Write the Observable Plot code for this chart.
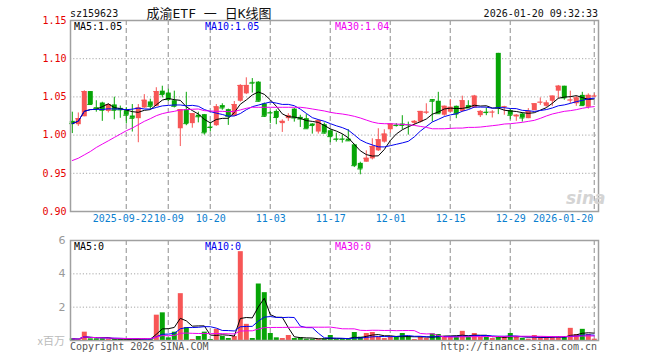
<!DOCTYPE html>
<html>
<head>
<meta charset="utf-8">
<script src="https://cdn.jsdelivr.net/npm/d3@7"></script>
<script src="https://cdn.jsdelivr.net/npm/@observablehq/plot@0.6"></script>
<style>
  body { margin: 0; background: #fff; }
  #wrap { position: relative; width: 660px; height: 360px; overflow: hidden; background: #fff; }
  #price, #vol, #overlay { position: absolute; left: 0; }
  #price { top: 0; }
  #vol { top: 232px; }
  #overlay { top: 0; pointer-events: none; }
</style>
</head>
<body>
<div id="wrap">
  <div id="price"></div>
  <div id="vol"></div>
  <svg id="overlay" width="660" height="360" xmlns="http://www.w3.org/2000/svg"></svg>
</div>
<script>
// ---------- data ----------
const dates = [
"2025-09-09","2025-09-10","2025-09-11","2025-09-12","2025-09-15","2025-09-16","2025-09-17","2025-09-18","2025-09-19","2025-09-22","2025-09-23","2025-09-24","2025-09-25","2025-09-26","2025-09-29","2025-09-30",
"2025-10-09","2025-10-10","2025-10-13","2025-10-14","2025-10-15","2025-10-16","2025-10-17","2025-10-20","2025-10-21","2025-10-22","2025-10-23","2025-10-24","2025-10-27","2025-10-28","2025-10-29","2025-10-30","2025-10-31",
"2025-11-03","2025-11-04","2025-11-05","2025-11-06","2025-11-07","2025-11-10","2025-11-11","2025-11-12","2025-11-13","2025-11-14","2025-11-17","2025-11-18","2025-11-19","2025-11-20","2025-11-21","2025-11-24","2025-11-25","2025-11-26","2025-11-27","2025-11-28",
"2025-12-01","2025-12-02","2025-12-03","2025-12-04","2025-12-05","2025-12-08","2025-12-09","2025-12-10","2025-12-11","2025-12-12","2025-12-15","2025-12-16","2025-12-17","2025-12-18","2025-12-19","2025-12-22","2025-12-23","2025-12-24","2025-12-25","2025-12-26","2025-12-29","2025-12-30","2025-12-31",
"2026-01-05","2026-01-06","2026-01-07","2026-01-08","2026-01-09","2026-01-12","2026-01-13","2026-01-14","2026-01-15","2026-01-16","2026-01-19","2026-01-20"];

const open = [
1.018,1.0136,1.024,1.057,1.036,1.042,1.031,1.0395,1.035,1.032,1.025,1.0215,1.0355,1.0434,1.0377,1.0575,1.055,1.045,1.0083,1.0333,1.015,1.026,
1.0268,1.0105,1.0123,1.0386,1.0333,1.0246,1.0443,1.054,1.069,1.0693,1.0408,1.0295,1.031,1.015,1.0215,1.034,1.0232,1.0215,1.0145,1.004,1.0136,1.0057,
0.995,0.995,0.9947,0.9873,0.963,0.9645,0.9689,0.9794,0.9908,1.007,1.013,1.0145,1.0136,1.0154,1.017,1.029,1.0465,1.0443,1.026,1.030,1.0377,1.031,
1.0386,1.0355,1.0254,1.030,1.0295,1.107,1.036,1.032,1.0237,1.0276,1.0215,1.032,1.0425,1.0377,1.0443,1.0575,1.064,1.0452,1.041,1.052,1.0364,1.0505];

const high = [
1.030,1.029,1.058,1.057,1.045,1.043,1.041,1.0496,1.038,1.036,1.040,1.040,1.053,1.047,1.062,1.064,1.060,1.0575,1.0333,1.056,1.028,1.030,
1.027,1.017,1.040,1.041,1.034,1.044,1.066,1.075,1.074,1.070,1.042,1.031,1.033,1.020,1.028,1.035,1.026,1.0268,1.015,1.020,1.0158,1.007,
1.0026,1.0004,1.007,0.988,0.9645,0.9794,0.9952,1.0083,1.007,1.0145,1.015,1.0254,1.017,1.019,1.031,1.041,1.0465,1.056,1.038,1.0465,1.038,1.051,
1.045,1.052,1.032,1.0355,1.032,1.107,1.0377,1.0333,1.0268,1.029,1.0347,1.041,1.0487,1.045,1.051,1.065,1.064,1.0575,1.051,1.056,1.054,1.054];

const low = [
1.002,1.0114,1.024,1.039,1.030,1.018,1.029,1.020,1.022,1.0145,1.004,0.990,1.035,1.0333,1.037,1.0487,1.044,1.0355,0.985,1.0123,1.009,1.016,
1.000,1.004,1.0114,1.0325,1.0127,1.0246,1.043,1.053,1.055,1.043,1.023,1.015,1.0136,1.0035,1.018,1.017,1.010,1.008,1.0013,1.0013,1.0013,0.990,
0.9908,0.9895,0.9917,0.9575,0.948,0.9645,0.9675,0.9785,0.9895,1.0026,1.0105,1.007,1.000,1.0127,1.0158,1.027,1.017,1.028,1.0246,1.030,1.0215,1.030,
1.035,1.035,1.023,1.0254,1.0224,1.0268,1.026,1.020,1.018,1.017,1.0215,1.032,1.039,1.0364,1.0377,1.0474,1.0456,1.041,1.0377,1.0377,1.034,1.049];

const close = [
1.015,1.0215,1.057,1.040,1.035,1.0325,1.040,1.0325,1.033,1.026,1.022,1.0355,1.0456,1.0377,1.057,1.053,1.0465,1.0377,1.0333,1.015,1.028,1.024,
1.003,1.010,1.037,1.0355,1.0246,1.040,1.065,1.065,1.068,1.0443,1.0246,1.029,1.023,1.018,1.0254,1.0224,1.021,1.0083,1.0125,1.019,1.0026,0.998,
0.9945,0.9945,0.9925,0.960,0.9557,0.9697,0.985,0.9939,1.0013,1.0145,1.0125,1.0127,1.0134,1.018,1.031,1.030,1.0443,1.028,1.0377,1.0364,1.0276,1.045,
1.0355,1.051,1.031,1.0295,1.030,1.0355,1.037,1.026,1.026,1.0224,1.031,1.041,1.043,1.042,1.051,1.064,1.0487,1.0458,1.0487,1.0386,1.052,1.051];

// 30-day moving average of price as shown (depends on days before the window)
const ma30 = [
0.9667,0.9697,0.9741,0.9785,0.9838,0.9882,0.9925,0.9969,1.0013,1.0057,1.0092,1.0136,1.0180,1.0215,1.0254,1.0281,1.0298,1.0311,1.0329,1.0333,1.0338,1.0342,
1.0320,1.0316,1.0311,1.0311,1.0307,1.0311,1.0329,1.0351,1.0364,1.0364,1.0364,1.0364,1.0364,1.0364,1.0364,1.0364,1.0364,1.0355,1.0342,1.0329,1.0316,1.0298,
1.0285,1.0276,1.0263,1.0246,1.0224,1.0197,1.0171,1.0154,1.0149,1.0149,1.0145,1.0140,1.0136,1.0127,1.0114,1.0101,1.0083,1.0083,1.0083,1.0088,1.0092,1.0092,
1.0101,1.0101,1.0105,1.0114,1.0123,1.0132,1.0145,1.0149,1.0158,1.0167,1.0180,1.0193,1.0219,1.0250,1.0276,1.0294,1.0311,1.0320,1.0333,1.0351,1.0364,1.0373];

// volume, millions
const volume = [
0.10,0.06,0.50,0.10,0.10,0.10,0.08,0.06,0.06,0.04,0.04,0.10,0.12,0.08,1.52,1.66,0.16,0.50,2.81,0.77,0.06,0.24,
0.50,0.06,0.67,0.24,0.12,0.24,5.33,0.97,0.12,3.39,2.87,0.42,0.16,0.12,0.30,0.12,0.16,0.08,0.08,0.08,0.10,0.30,
0.06,0.06,0.06,0.48,0.20,0.42,0.48,0.20,0.12,0.20,0.20,0.42,0.24,0.06,0.20,0.12,0.40,0.36,0.24,0.24,0.20,0.55,
0.20,0.42,0.20,0.20,0.12,0.20,0.20,0.42,0.20,0.12,0.08,0.30,0.20,0.20,0.20,0.20,0.20,0.73,0.36,0.67,0.36,0.08];

const tickDates  = ["2025-09-22","2025-10-09","2025-10-20","2025-11-03","2025-11-17","2025-12-01","2025-12-15","2025-12-29","2026-01-20"];
const tickLabels = ["2025-09-22","10-09","10-20","11-03","11-17","12-01","12-15","12-29","2026-01-20"];
const priceTicks = [0.90, 0.95, 1.00, 1.05, 1.10, 1.15];
const priceGrid  = [0.95, 1.00, 1.05, 1.10];
const volTicks   = [2, 4, 6];
const volGrid    = [2, 4];

const code = "sz159623";
const title = "成渝ETF 一 日K线图";
const stamp = "2026-01-20 09:32:33";
const priceLegend = ["MA5:1.05", "MA10:1.05", "MA30:1.04"];
const volLegend = ["MA5:0", "MA10:0", "MA30:0"];
const volUnit = "x百万";
const footLeft = "Copyright 2026 SINA.COM";
const footRight = "http://finance.sina.com.cn";

// ---------- build ----------
const RED = "#f75656", GREEN = "#07a507";
const MA_COLORS = ["#000000", "#0000f0", "#f000f0"];
const data = dates.map((date, i) => ({
  i, date, open: open[i], high: high[i], low: low[i], close: close[i], ma30: ma30[i], vol: volume[i]
}));
const up = d => d.close >= d.open;
const down = d => d.close < d.open;
const ticks = tickDates.map((d, k) => ({ i: dates.indexOf(d), label: tickLabels[k] }));
const xDomain = [-0.3, dates.length - 0.3];
const MONO = "'DejaVu Sans Mono', 'Liberation Mono', monospace";
const LABEL_BLUE = "#0b80cf";

const priceChart = Plot.plot({
  width: 660, height: 232,
  marginLeft: 70, marginRight: 62, marginTop: 20, marginBottom: 21,
  x: { domain: xDomain, axis: null },
  y: { domain: [0.90, 1.15], axis: null },
  style: { fontFamily: MONO, fontSize: "10px", background: "#fff", overflow: "visible" },
  marks: [
    Plot.ruleY(priceGrid, { stroke: "#a8a8a8", strokeDasharray: "1.2,2" }),
    Plot.ruleX(ticks, { x: "i", stroke: "#a8a8a8", strokeWidth: 1.3, strokeDasharray: "5,3" }),
    Plot.axisY({ ticks: priceTicks, tickFormat: d => d.toFixed(2), tickSize: 0, tickPadding: 4, color: "#e60000", fontSize: 10, label: null }),
    Plot.text(ticks.slice(0, 1), { x: "i", text: "label", frameAnchor: "bottom", dy: 10, dx: -3.5, fill: LABEL_BLUE, fontSize: 10 }),
    Plot.text(ticks.slice(1, -1), { x: "i", text: "label", frameAnchor: "bottom", dy: 10, dx: 0.5, fill: LABEL_BLUE, fontSize: 10 }),
    Plot.text(ticks.slice(-1), { x: "i", text: "label", frameAnchor: "bottom", dy: 10, dx: -1, textAnchor: "end", fill: LABEL_BLUE, fontSize: 10 }),
    // wicks
    Plot.ruleX(data, { filter: up, x: "i", y1: "low", y2: "high", stroke: RED, strokeWidth: 1 }),
    Plot.ruleX(data, { filter: down, x: "i", y1: "low", y2: "high", stroke: GREEN, strokeWidth: 1 }),
    // bodies
    Plot.ruleX(data, { filter: up, x: "i", y1: "open", y2: "close", stroke: RED, strokeWidth: 5 }),
    Plot.ruleX(data, { filter: down, x: "i", y1: "open", y2: "close", stroke: GREEN, strokeWidth: 5 }),
    Plot.ruleY(data, { filter: up, y: "close", x1: d => d.i - 0.42, x2: d => d.i + 0.42, stroke: RED }),
    Plot.ruleY(data, { filter: down, y: "close", x1: d => d.i - 0.42, x2: d => d.i + 0.42, stroke: GREEN }),
    // moving averages
    Plot.lineY(data, Plot.windowY({ k: 5, anchor: "end" }, { x: "i", y: "close", stroke: MA_COLORS[0], strokeWidth: 1 })),
    Plot.lineY(data, Plot.windowY({ k: 10, anchor: "end" }, { x: "i", y: "close", stroke: MA_COLORS[1], strokeWidth: 1 })),
    Plot.lineY(data, { x: "i", y: "ma30", stroke: MA_COLORS[2], strokeWidth: 1 }),
    Plot.frame({ stroke: "#a0a0a0", strokeWidth: 1.5 })
  ]
});
document.getElementById("price").appendChild(priceChart);

const volChart = Plot.plot({
  width: 660, height: 128,
  marginLeft: 70, marginRight: 62, marginTop: 8, marginBottom: 20,
  x: { domain: xDomain, axis: null },
  y: { domain: [0, 6], axis: null, label: null },
  style: { fontFamily: "'DejaVu Sans', sans-serif", fontSize: "11px", background: "#fff", overflow: "visible" },
  marks: [
    Plot.ruleY(volGrid, { stroke: "#a8a8a8", strokeDasharray: "1.2,2" }),
    Plot.ruleX(ticks, { x: "i", stroke: "#a8a8a8", strokeWidth: 1.3, strokeDasharray: "5,3" }),
    Plot.axisY({ ticks: volTicks, tickFormat: d => String(d), tickSize: 0, tickPadding: 5, color: "#999", fontSize: 11, label: null }),
    Plot.ruleX(data, { filter: up, x: "i", y1: 0, y2: "vol", stroke: RED, strokeWidth: 5 }),
    Plot.ruleX(data, { filter: down, x: "i", y1: 0, y2: "vol", stroke: GREEN, strokeWidth: 5 }),
    Plot.lineY(data, Plot.windowY({ k: 5, anchor: "end" }, { x: "i", y: "vol", stroke: MA_COLORS[0], strokeWidth: 1 })),
    Plot.lineY(data, Plot.windowY({ k: 10, anchor: "end" }, { x: "i", y: "vol", stroke: MA_COLORS[1], strokeWidth: 1 })),
    Plot.lineY(data, Plot.windowY({ k: 30, anchor: "end" }, { x: "i", y: "vol", stroke: MA_COLORS[2], strokeWidth: 1 })),
    Plot.frame({ stroke: "#a0a0a0", strokeWidth: 1.5 })
  ]
});
document.getElementById("vol").appendChild(volChart);

// ---------- texts ----------
const ov = d3.select("#overlay");
function txt(x, y, s, opts = {}) {
  ov.append("text").attr("x", x).attr("y", y).text(s)
    .attr("font-family", opts.family || MONO)
    .attr("font-size", opts.size || 10)
    .attr("fill", opts.fill || "#000")
    .attr("text-anchor", opts.anchor || "start")
    .attr("font-weight", opts.weight || "normal")
    .attr("font-style", opts.style || "normal");
}
txt(70, 17, code, { fill: "#111" });
txt(209, 18, title, { anchor: "middle", size: 13, family: "'DejaVu Sans Mono', 'Noto Sans CJK SC', sans-serif", fill: "#111" });
txt(598, 17, stamp, { anchor: "end", fill: "#111" });
const legendX = [74, 205, 335];
priceLegend.forEach((s, k) => txt(legendX[k], 30, s, { fill: MA_COLORS[k] }));
volLegend.forEach((s, k) => txt(legendX[k], 250, s, { fill: MA_COLORS[k] }));
txt(65, 345, volUnit, { anchor: "end", size: 11, family: "'Noto Sans CJK SC', sans-serif", fill: "#bbb" });
txt(70, 350, footLeft, { fill: "#555" });
txt(597, 350, footRight, { anchor: "end", fill: "#555" });
txt(566, 204, "sina", { size: 17, weight: "bold", style: "italic", family: "'DejaVu Sans', sans-serif", fill: "#d4d4d4" });
</script>
</body>
</html>
